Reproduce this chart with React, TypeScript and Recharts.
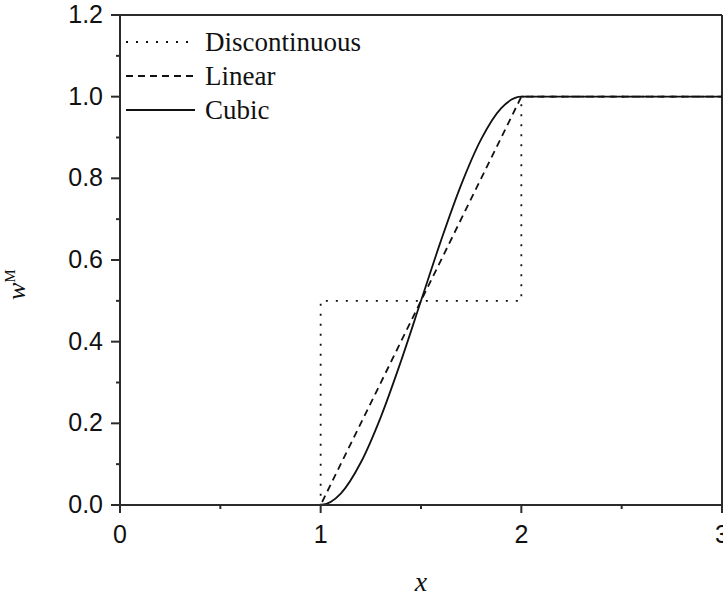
import { LineChart, Line, XAxis, YAxis, ReferenceLine } from "recharts";

// Weight functions w^M(x) for three interpolation schemes
const discX = [0, 1, 1, 2, 2, 3];
const discY = [0, 0, 0.5, 0.5, 1, 1];

const linearX = [0, 1, 2, 3];
const linearY = [0, 0, 1, 1];

const cubicX = [0, 1, 1.1, 1.2, 1.3, 1.4, 1.5, 1.6, 1.7, 1.8, 1.9, 2, 3];
const cubicY = [0, 0, 0.028, 0.104, 0.216, 0.352, 0.5, 0.648, 0.784, 0.896, 0.972, 1, 1];

const xTicks = [0, 0.5, 1, 1.5, 2, 2.5, 3];
const yTicks = [0, 0.1, 0.2, 0.3, 0.4, 0.5, 0.6, 0.7, 0.8, 0.9, 1.0, 1.1, 1.2];

const seriesNames = ["Discontinuous", "Linear", "Cubic"];
const seriesDash = ["2 8", "7 5", undefined];

const zip = (xs: number[], ys: number[]) => xs.map((x, i) => ({ x, y: ys[i] }));

const discData = zip(discX, discY);
const linearData = zip(linearX, linearY);
const cubicData = zip(cubicX, cubicY);

const INK = "#111";
const AXIS = "#2b2b2b";
const SANS = "'Liberation Sans', Arial, sans-serif";
const SERIF = "'Liberation Serif', 'Times New Roman', serif";

function XTick(props: any) {
  const { x, y, payload } = props;
  const v = payload.value as number;
  const major = Number.isInteger(v);
  return (
    <g>
      <line x1={x} x2={x} y1={y} y2={y + (major ? 8 : 4)} stroke={AXIS} strokeWidth={2} />
      {major && (
        <text x={x} y={y + 38} textAnchor="middle" fontSize={25} fontFamily={SANS} fill={INK}>
          {v}
        </text>
      )}
    </g>
  );
}

function YTick(props: any) {
  const { x, y, payload } = props;
  const v = payload.value as number;
  const major = Math.round(v * 10) % 2 === 0;
  return (
    <g>
      <line x1={x - (major ? 9 : 4)} x2={x} y1={y} y2={y} stroke={AXIS} strokeWidth={2} />
      {major && (
        <text x={x - 17} y={y + 8} textAnchor="end" fontSize={25} fontFamily={SANS} fill={INK}>
          {v.toFixed(1)}
        </text>
      )}
    </g>
  );
}

// Legend drawn as an overlay in the top-left corner of the plot
function LegendBox() {
  return (
    <svg width={400} height={130} style={{ position: "absolute", left: 0, top: 0, pointerEvents: "none" }}>
      {seriesNames.map((name, i) => {
        const cy = 42 + i * 34;
        return (
          <g key={name}>
            <line x1={126} x2={195} y1={cy} y2={cy} stroke={INK} strokeWidth={1.8} strokeDasharray={seriesDash[i]} />
            <text x={205} y={cy + 9} fontSize={27} fontFamily={SERIF} fill={INK}>
              {name}
            </text>
          </g>
        );
      })}
    </svg>
  );
}

export default function App() {
  return (
    <div style={{ position: "absolute", left: 0, top: 0, width: 723, height: 598, background: "#fff" }}>
      <LineChart width={723} height={598} margin={{ top: 15, right: 1, bottom: 0, left: 0 }}>
        <XAxis
          dataKey="x"
          type="number"
          domain={[0, 3]}
          ticks={xTicks}
          interval={0}
          height={93}
          tickSize={0}
          tickMargin={0}
          tick={XTick}
          axisLine={{ stroke: AXIS, strokeWidth: 2 }}
          label={(p: any) => {
            const vb = p.viewBox;
            return (
              <text x={vb.x + vb.width / 2} y={vb.y + 86} textAnchor="middle" fontSize={28} fontStyle="italic" fontFamily={SERIF} fill={INK}>
                x
              </text>
            );
          }}
        />
        <YAxis
          type="number"
          domain={[0, 1.2]}
          ticks={yTicks}
          interval={0}
          width={120}
          tickSize={0}
          tickMargin={0}
          tick={YTick}
          axisLine={{ stroke: AXIS, strokeWidth: 2 }}
          label={() => (
            <text transform="translate(25,300) rotate(-90)" fontFamily={SERIF} fill={INK}>
              <tspan fontSize={26} fontStyle="italic">w</tspan>
              <tspan fontSize={15} dy={-10}>M</tspan>
            </text>
          )}
        />
        <ReferenceLine y={1.2} stroke={AXIS} strokeWidth={2} />
        <ReferenceLine x={3} stroke={AXIS} strokeWidth={2} />
        <Line data={discData} dataKey="y" name="Discontinuous" type="linear" stroke={INK} strokeWidth={1.8} strokeDasharray="2 8" dot={false} isAnimationActive={false} />
        <Line data={linearData} dataKey="y" name="Linear" type="linear" stroke={INK} strokeWidth={1.8} strokeDasharray="7 5" dot={false} isAnimationActive={false} />
        <Line data={cubicData} dataKey="y" name="Cubic" type="monotone" stroke={INK} strokeWidth={1.8} dot={false} isAnimationActive={false} />
      </LineChart>
      <LegendBox />
    </div>
  );
}
